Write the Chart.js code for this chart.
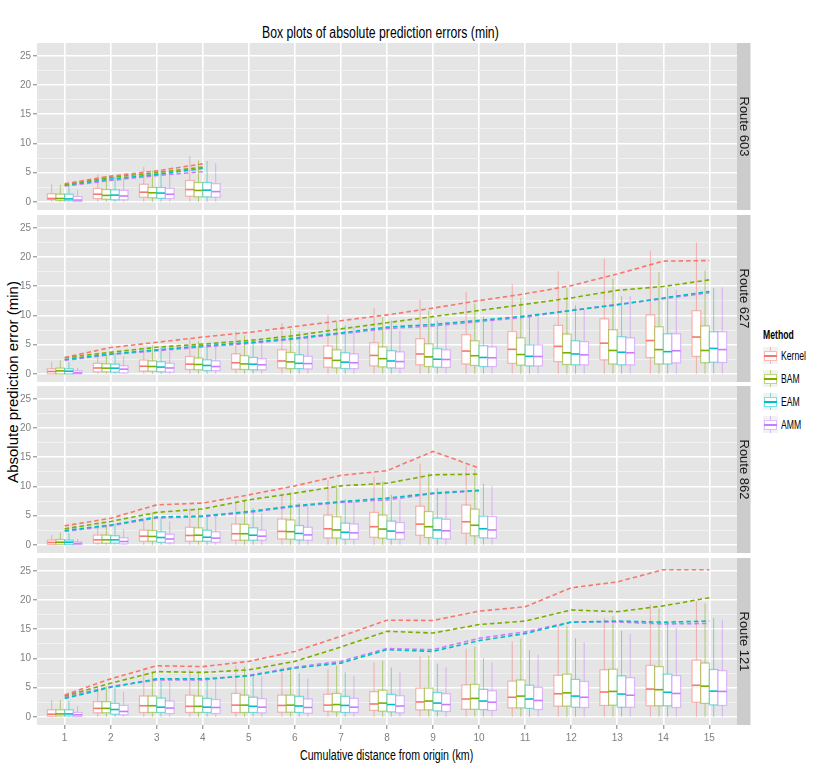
<!DOCTYPE html>
<html>
<head>
<meta charset="utf-8">
<script src="https://cdn.jsdelivr.net/npm/chart.js@4.4.1/dist/chart.umd.min.js"></script>
<style>
  body { margin: 0; background: #fff; }
  #wrap { position: relative; width: 830px; height: 775px; overflow: hidden; font-family: "Liberation Sans", Arial, sans-serif; }
  canvas { position: absolute; left: 0; }
  .txt { position: absolute; white-space: nowrap; color: #000; }
  .narrow { display: inline-block; transform-origin: 0 50%; }
  .key { position: absolute; left: 763px; width: 15px; height: 17px; background: #F2F2F2; }
  .key div { position: absolute; }
</style>
</head>
<body>
<div id="wrap">
  <div class="txt" id="title" style="left:262px; top:24px; font-size:16px; line-height:18px;">
    <span class="narrow" style="transform:scaleX(0.765)">Box plots of absolute prediction errors (min)</span>
  </div>
  <div class="txt" id="ytitle" style="left:12px; top:382px; font-size:15px; line-height:15px; transform:translate(-50%,-50%) rotate(-90deg);">Absolute prediction error (min)</div>
  <div class="txt" id="xtitle" style="left:300px; top:747px; font-size:14px; line-height:16px;">
    <span class="narrow" style="transform:scaleX(0.76)">Cumulative distance from origin (km)</span>
  </div>
  <canvas id="p603" width="752" height="167" style="top:43px"></canvas>
  <canvas id="p627" width="752" height="167" style="top:215px"></canvas>
  <canvas id="p862" width="752" height="167" style="top:386px"></canvas>
  <canvas id="p121" width="752" height="217" style="top:558px"></canvas>
  <div id="legend"></div>
</div>
<script>
const distances = [1, 2, 3, 4, 5, 6, 7, 8, 9, 10, 11, 12, 13, 14, 15];
const methods = ['Kernel', 'BAM', 'EAM', 'AMM'];
const methodColors = ['#F8766D', '#7CAE00', '#00BFC4', '#C77CFF'];
const fadedColors = ['rgba(248,118,109,0.5)', 'rgba(124,174,0,0.5)', 'rgba(0,191,196,0.5)', 'rgba(199,124,255,0.5)'];
const yTicks = [0, 2.5, 5, 7.5, 10, 12.5, 15, 17.5, 20, 22.5, 25];

// box stats per distance: [lower whisker, q1, median, q3, upper whisker]
const box603Kernel = [[0,0.4,0.57,1.37,3.0],[0,0.57,1.3,2.3,4.7],[0,0.8,1.65,3.0,6.0],[0,0.97,2.1,3.65,7.8]];
const box603BAM    = [[0,0.23,0.57,1.3,2.9],[0,0.45,1.1,2.1,4.45],[0,0.7,1.55,2.45,5.3],[0,0.86,1.95,3.3,7.1]];
const box603EAM    = [[0,0.2,0.5,1.3,2.85],[0,0.35,1.15,2.05,4.3],[0,0.6,1.5,2.45,5.3],[0,0.86,2.0,3.3,7.0]];
const box603AMM    = [[0,0.05,0.3,0.9,2.05],[0,0.35,1.0,1.95,4.05],[0,0.57,1.3,2.3,4.45],[0,0.8,1.75,3.1,6.6]];
const line603Kernel = [3.1, 4.4, 5.3, 6.5];
const line603BAM    = [2.95, 4.2, 5.0, 5.95];
const line603EAM    = [2.85, 3.9, 4.7, 5.7];
const line603AMM    = [2.7, 3.65, 4.5, 5.15];

const box627Kernel = [[0,0,0.4,0.86,2.0],[0,0.35,1.0,1.8,3.4],[0,0.5,1.3,2.35,4.55],[0,0.75,1.65,2.97,6.0],[0,0.8,1.9,3.4,7.3],
  [0,1.03,2.2,4.1,8.7],[0,1.15,2.7,4.75,10.1],[0,1.37,3.15,5.3,11.3],[0,1.55,3.4,6.0,12.7],[0,1.7,3.9,6.7,14.0],
  [0,1.8,4.2,7.25,15.4],[0,2.1,4.7,8.3,17.6],[0,2.4,5.25,9.4,19.7],[0,2.8,5.7,10.1,21.1],[0,3.0,6.3,10.8,22.5]];
const box627BAM = [[0,0,0.5,0.97,2.3],[0,0.35,0.97,1.7,3.25],[0,0.45,1.25,2.2,4.95],[0,0.7,1.6,2.7,5.6],[0,0.75,1.7,3.1,6.55],
  [0,0.9,2.05,3.65,7.7],[0,1.03,2.3,4.1,8.85],[0,1.2,2.6,4.6,9.7],[0,1.25,2.9,5.15,10.8],[0,1.43,3.1,5.65,12.0],
  [0,1.5,3.3,6.15,13.0],[0,1.6,3.6,6.8,14.7],[0,1.7,4.0,7.55,16.3],[0,1.7,4.15,8.05,17.4],[0,1.9,4.0,8.2,17.7]];
const box627EAM = [[0,0,0.45,0.86,2.0],[0,0.3,0.97,1.65,3.5],[0,0.35,1.15,2.05,4.5],[0,0.57,1.43,2.4,5.1],[0,0.7,1.65,2.8,6.0],
  [0,0.9,1.8,3.25,7.25],[0,0.9,2.0,3.6,8.3],[0,1.03,2.2,3.95,9.1],[0,1.15,2.5,4.3,9.1],[0,1.25,2.8,4.8,9.8],
  [0,1.37,3.0,4.95,9.8],[0,1.55,3.4,5.65,11.7],[0,1.55,3.7,6.35,13.3],[0,1.7,3.8,6.85,14.7],[0,2.0,4.35,7.2,14.7]];
const box627AMM = [[0,0,0.17,0.5,1.0],[0,0.17,0.8,1.37,3.0],[0,0.3,1.0,1.8,3.8],[0,0.57,1.25,2.2,4.85],[0,0.7,1.55,2.6,5.4],
  [0,0.85,1.75,3.0,7.1],[0,0.9,1.9,3.4,8.0],[0,0.97,2.1,3.75,7.4],[0,1.1,2.45,4.1,8.85],[0,1.25,2.75,4.6,9.4],
  [0,1.37,2.97,4.95,9.7],[0,1.55,3.25,5.5,11.0],[0,1.55,3.6,6.15,13.3],[0,1.9,3.95,6.85,14.4],[0,1.95,4.15,7.2,14.8]];
const line627Kernel = [2.8, 4.5, 5.4, 6.3, 7.1, 8.1, 9.1, 10.1, 11.25, 12.55, 13.7, 15.1, 17.1, 19.3, 19.4];
const line627BAM    = [2.75, 3.7, 4.55, 5.1, 5.7, 6.55, 7.7, 8.75, 9.8, 10.85, 11.9, 13.0, 14.3, 14.95, 16.1];
const line627EAM    = [2.45, 3.4, 4.1, 4.8, 5.35, 6.1, 7.0, 8.0, 8.45, 9.15, 9.9, 10.85, 11.8, 13.0, 14.1];
const line627AMM    = [2.3, 3.3, 3.95, 4.6, 5.2, 5.95, 6.85, 7.75, 8.2, 8.95, 9.7, 10.85, 11.9, 12.85, 13.9];

const box862Kernel = [[0,0.05,0.4,0.8,1.7],[0,0.3,0.85,1.65,3.15],[0,0.63,1.48,2.5,4.3],[0,0.63,1.6,3.0,6.3],[0,0.8,1.9,3.55,7.25],
  [0,1.03,2.3,4.4,8.85],[0,1.2,2.75,5.1,11.1],[0,1.3,3.1,5.55,11.7],[0,1.65,3.55,6.6,13.9],[0,2.0,3.95,6.8,13.6]];
const box862BAM = [[0,0.1,0.45,0.9,2.1],[0,0.3,0.85,1.65,3.4],[0,0.63,1.43,2.45,5.55],[0,0.63,1.65,2.9,6.3],[0,0.8,1.9,3.5,7.7],
  [0,0.97,2.25,4.25,8.95],[0,1.2,2.55,4.8,10.3],[0,1.15,2.7,5.1,10.85],[0,1.25,3.1,5.7,12.3],[0,1.55,3.35,6.1,12.85]];
const box862EAM = [[0,0.05,0.45,0.8,2.0],[0,0.3,0.85,1.55,3.6],[0,0.45,1.25,2.2,4.55],[0,0.63,1.3,2.5,5.15],[0,0.8,1.65,2.9,6.3],
  [0,0.85,1.95,3.3,7.15],[0,0.97,2.15,3.7,7.8],[0,0.97,2.35,4.05,8.55],[0,1.1,2.55,4.55,9.7],[0,1.2,2.75,4.9,10.45]];
const box862AMM = [[0,0.05,0.23,0.5,1.0],[0,0.17,0.57,1.2,2.7],[0,0.34,1.0,1.8,4.0],[0,0.45,1.15,2.2,4.85],[0,0.8,1.48,2.5,5.4],
  [0,0.8,1.7,3.0,6.55],[0,0.97,2.05,3.55,7.4],[0,0.97,2.1,3.8,7.7],[0,1.03,2.4,4.35,9.15],[0,1.15,2.55,4.85,10.1]];
const line862Kernel = [3.25, 4.55, 6.85, 7.15, 8.55, 10.1, 11.9, 12.7, 16.0, 13.15];
const line862BAM    = [2.75, 4.0, 5.55, 6.15, 7.7, 8.85, 10.1, 10.55, 12.0, 12.1];
const line862EAM    = [2.45, 3.4, 4.75, 4.95, 5.7, 6.7, 7.4, 8.0, 8.85, 9.35];
const line862AMM    = [2.3, 3.25, 4.6, 4.8, 5.55, 6.55, 7.25, 7.7, 8.75, 9.25];

const box121Kernel = [[0,0.1,0.45,1.2,2.9],[0,0.7,1.45,2.6,5.2],[0,0.75,1.9,3.55,7.75],[0,0.75,1.8,3.7,8.05],[0,0.75,2.0,4.0,8.75],
  [0,0.8,1.95,3.7,7.9],[0,0.97,2.0,3.85,8.15],[0,1.1,2.2,4.3,9.3],[0,1.2,2.55,4.9,10.35],[0,1.3,3.05,5.45,11.65],
  [0,1.55,3.35,6.1,12.9],[0,1.85,3.95,7.1,15.5],[0,1.95,4.25,8.05,16.95],[0,1.9,4.75,8.8,19.25],[0,2.5,5.4,9.7,19.8]];
const box121BAM = [[0,0.17,0.5,1.2,2.9],[0,0.7,1.45,2.6,5.2],[0,0.75,1.9,3.55,7.75],[0,0.75,1.8,3.55,7.75],[0,0.75,2.0,3.7,8.6],
  [0,0.8,2.0,3.7,8.35],[0,0.86,2.1,4.0,8.75],[0,0.97,2.35,4.55,9.6],[0,1.2,2.7,4.9,10.45],[0,1.3,3.15,5.55,12.0],
  [0,1.55,3.55,6.3,13.4],[0,1.85,4.1,7.3,15.5],[0,2.0,4.35,8.15,17.25],[0,1.9,4.65,8.6,18.5],[0,2.3,5.25,9.2,19.4]];
const box121EAM = [[0,0.17,0.5,1.2,2.75],[0,0.45,1.25,2.3,5.2],[0,0.75,1.65,3.2,6.7],[0,0.75,1.65,3.15,6.8],[0,0.75,1.8,3.35,7.0],
  [0,0.75,1.85,3.5,7.5],[0,0.75,1.95,3.5,7.6],[0,0.86,2.1,3.85,8.45],[0,1.03,2.35,4.15,9.1],[0,1.25,2.7,4.7,10.05],
  [0,1.45,3.05,5.4,11.4],[0,1.65,3.55,6.4,13.45],[0,1.65,3.9,7.0,14.75],[0,1.9,4.2,7.3,15.8],[0,2.05,4.4,8.1,16.95]];
const box121AMM = [[0,0.05,0.35,0.75,1.85],[0,0.35,0.92,1.95,4.3],[0,0.57,1.5,2.7,6.0],[0,0.57,1.6,2.95,6.6],[0,0.7,1.65,3.1,6.9],
  [0,0.63,1.6,3.05,6.6],[0,0.75,1.65,3.15,7.0],[0,0.7,1.85,3.6,7.65],[0,0.92,2.1,3.95,8.45],[0,1.1,2.5,4.45,9.3],
  [0,1.25,2.8,5.05,10.65],[0,1.6,3.35,6.05,12.75],[0,1.65,3.7,6.7,14.2],[0,1.6,4.0,7.05,15.2],[0,1.95,4.35,7.9,16.65]];
const line121Kernel = [3.75, 6.5, 8.75, 8.6, 9.5, 11.2, 13.8, 16.55, 16.5, 18.1, 18.85, 22.1, 23.1, 25.2, 25.2];
const line121BAM    = [3.55, 5.75, 7.75, 7.6, 8.05, 9.5, 11.95, 14.65, 14.35, 15.8, 16.4, 18.3, 18.0, 19.0, 20.4];
const line121EAM    = [3.15, 5.05, 6.5, 6.5, 7.0, 8.35, 9.2, 11.5, 11.2, 13.05, 14.25, 16.2, 16.4, 16.2, 16.4];
const line121AMM    = [3.35, 5.2, 6.3, 6.3, 7.1, 8.5, 9.5, 11.7, 11.5, 13.45, 14.55, 16.25, 16.25, 15.9, 16.0];

const panels = [
  { id: 'p603', label: 'Route 603', boxes: [box603Kernel, box603BAM, box603EAM, box603AMM], lines: [line603Kernel, line603BAM, line603EAM, line603AMM] },
  { id: 'p627', label: 'Route 627', boxes: [box627Kernel, box627BAM, box627EAM, box627AMM], lines: [line627Kernel, line627BAM, line627EAM, line627AMM] },
  { id: 'p862', label: 'Route 862', boxes: [box862Kernel, box862BAM, box862EAM, box862AMM], lines: [line862Kernel, line862BAM, line862EAM, line862AMM] },
  { id: 'p121', label: 'Route 121', boxes: [box121Kernel, box121BAM, box121EAM, box121AMM], lines: [line121Kernel, line121BAM, line121EAM, line121AMM] }
];

// dodge: 4 boxes share 0.75 of a unit
const boxWidth = 0.1875;
const boxOffsets = [-0.28125, -0.09375, 0.09375, 0.28125];

function panelPlugin(panel) {
  return {
    id: 'panel_' + panel.id,
    beforeDraw(chart) {
      const a = chart.chartArea, ctx = chart.ctx;
      ctx.save();
      ctx.fillStyle = '#E5E5E5';
      ctx.fillRect(a.left, a.top, a.right - a.left, a.bottom - a.top);
      ctx.restore();
    },
    beforeDatasetsDraw(chart) {
      const ctx = chart.ctx, x = chart.scales.x, y = chart.scales.y;
      ctx.save();
      panel.boxes.forEach((series, m) => {
        series.forEach((s, i) => {
          const c = distances[i] + boxOffsets[m];
          const l = x.getPixelForValue(c - boxWidth / 2);
          const r = x.getPixelForValue(c + boxWidth / 2);
          const mid = x.getPixelForValue(c);
          const yLo = y.getPixelForValue(s[0]), yQ1 = y.getPixelForValue(s[1]);
          const yMed = y.getPixelForValue(s[2]), yQ3 = y.getPixelForValue(s[3]);
          const yHi = y.getPixelForValue(s[4]);
          ctx.strokeStyle = fadedColors[m];
          ctx.lineWidth = 1;
          ctx.beginPath();
          ctx.moveTo(mid, yHi); ctx.lineTo(mid, yQ3);
          ctx.moveTo(mid, yQ1); ctx.lineTo(mid, yLo);
          ctx.stroke();
          ctx.fillStyle = '#FFFFFF';
          ctx.fillRect(l, yQ3, r - l, yQ1 - yQ3);
          ctx.lineWidth = 1.2;
          ctx.strokeRect(l, yQ3, r - l, yQ1 - yQ3);
          ctx.strokeStyle = methodColors[m];
          ctx.lineWidth = 1.6;
          ctx.beginPath();
          ctx.moveTo(l, yMed); ctx.lineTo(r, yMed);
          ctx.stroke();
        });
      });
      ctx.restore();
    },
    afterDraw(chart) {
      const a = chart.chartArea, ctx = chart.ctx;
      ctx.save();
      ctx.fillStyle = '#CCCCCC';
      ctx.fillRect(a.right, a.top, 13.5, a.bottom - a.top);
      ctx.translate(a.right + 7, (a.top + a.bottom) / 2);
      ctx.rotate(Math.PI / 2);
      ctx.fillStyle = '#1A1A1A';
      ctx.font = '13px "Liberation Sans", Arial, sans-serif';
      ctx.textAlign = 'center';
      ctx.textBaseline = 'middle';
      ctx.fillText(panel.label, 0, 0);
      ctx.restore();
    }
  };
}

panels.forEach((panel, k) => {
  const last = k === panels.length - 1;
  new Chart(document.getElementById(panel.id), {
    type: 'line',
    data: {
      datasets: methods.map((m, j) => ({
        label: m,
        data: panel.lines[j].map((v, i) => ({ x: distances[i], y: v })),
        borderColor: methodColors[j],
        borderWidth: 1.6,
        borderDash: [4.5, 3],
        pointRadius: 0,
        fill: false,
        tension: 0
      }))
    },
    options: {
      responsive: false,
      animation: false,
      layout: { padding: { left: 0, right: 15, top: 0, bottom: 0 } },
      plugins: { legend: { display: false }, tooltip: { enabled: false } },
      scales: {
        x: {
          type: 'linear',
          min: 0.4,
          max: 15.6,
          afterBuildTicks: s => { s.ticks = distances.map(v => ({ value: v })); },
          afterFit: s => { s.height = last ? 50 : 0; s.paddingLeft = 0; s.paddingRight = 0; },
          border: { display: false },
          grid: { color: '#FFFFFF', lineWidth: 1.6, drawTicks: last, tickLength: 4, tickColor: '#7F7F7F', tickWidth: 1 },
          ticks: {
            display: last, autoSkip: false, maxRotation: 0, padding: 3,
            color: '#7F7F7F', font: { family: '"Liberation Sans", Arial, sans-serif', size: 10 }
          }
        },
        y: {
          min: -1.4,
          max: 27.2,
          afterBuildTicks: s => { s.ticks = yTicks.map(v => ({ value: v })); },
          afterFit: s => { s.width = 37; s.paddingTop = 0; s.paddingBottom = 0; },
          border: { display: false },
          grid: {
            color: c => (c.tick && c.tick.value % 5 === 0) ? '#FFFFFF' : '#F2F2F2',
            lineWidth: c => (c.tick && c.tick.value % 5 === 0) ? 1.6 : 0.9,
            tickColor: c => (c.tick && c.tick.value % 5 === 0) ? '#7F7F7F' : 'rgba(0,0,0,0)',
            tickLength: 4,
            tickWidth: 1
          },
          ticks: {
            autoSkip: false, padding: 2, color: '#7F7F7F',
            font: { family: '"Liberation Sans", Arial, sans-serif', size: 10 },
            callback: v => (v % 5 === 0 ? String(v) : '')
          }
        }
      }
    },
    plugins: [panelPlugin(panel)]
  });
});

// legend with box-plot keys
const legend = document.getElementById('legend');
let html = '<div class="txt" style="left:763px; top:327px; font-size:12px; line-height:16px; font-weight:bold;"><span class="narrow" style="transform:scaleX(0.72)">Method</span></div>';
methods.forEach((m, j) => {
  const top = 347 + j * 23;
  html += '<div class="key" style="top:' + top + 'px">' +
    '<div style="left:7px; top:0; width:1px; height:17px; background:' + fadedColors[j] + '"></div>' +
    '<div style="left:1px; top:4px; width:11px; height:8px; background:#fff; border:1px solid ' + fadedColors[j] + '"></div>' +
    '<div style="left:1px; top:8px; width:13px; height:1.5px; background:' + methodColors[j] + '"></div>' +
    '</div>';
  html += '<div class="txt" style="left:781px; top:' + (top + 1) + 'px; font-size:12px; line-height:16px;"><span class="narrow" style="transform:scaleX(0.72)">' + m + '</span></div>';
});
legend.innerHTML = html;
</script>
</body>
</html>
